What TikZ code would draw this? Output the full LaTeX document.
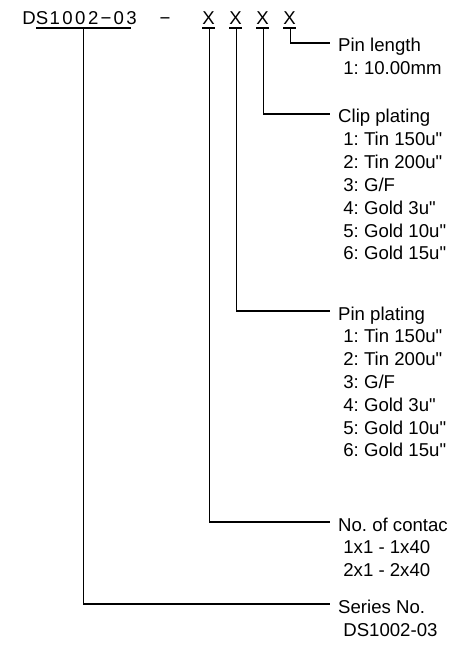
\documentclass[tikz,border=0pt]{standalone}
\usepackage{fontspec}
\setmainfont{Liberation Sans}[Ligatures=TeXOff]
\frenchspacing
\newcommand\mc[1]{\makebox[12.8pt]{#1}}
\begin{document}
\begin{tikzpicture}[x=1pt,y=-1pt,
  lbl/.style={anchor=base west,inner sep=0pt,font=\fontsize{18.6}{22.8}\selectfont},
  hdr/.style={anchor=base,inner sep=0pt,font=\fontsize{18.6}{22.8}\selectfont},
  conn/.style={line width=1.6pt},
  uline/.style={line width=1.3pt}]
\useasboundingbox (0,0) rectangle (450,652);
% header
\node[anchor=base west,inner sep=0pt,font=\fontsize{18.6}{22.8}\selectfont] (code) at (22.6,25)
  {\mc{D}\mc{S}\mc{1}\mc{0}\mc{0}\mc{2}\mc{\char"2212}\mc{0}\mc{3}};
\node[hdr] (dash) at (165,25) {\char"2212};
\node[hdr] (x1) at (208.5,25) {X};
\node[hdr] (x2) at (235.5,25) {X};
\node[hdr] (x3) at (262.5,25) {X};
\node[hdr] (x4) at (289.5,25) {X};
% underlines
\coordinate (us) at (83.5,28);
\draw[uline] (36,28) -- (131,28);
\foreach \c in {208.5,235.5,262.5,289.5}
  \draw[uline] (\c-6.5,28) -- (\c+6.5,28);
\coordinate (u1) at (209.5,28);
\coordinate (u2) at (236.5,28);
\coordinate (u3) at (263.5,28);
\coordinate (u4) at (290.5,28);
% labels
\node[lbl] (pl) at (338,52) {Pin length};
\node[lbl] (pl1) at (338,74.8) {\ 1: 10.00mm};
\node[lbl] (cp) at (338,123) {Clip plating};
\foreach \t [count=\i] in {1: Tin 150u",2: Tin 200u",3: G/F,4: Gold 3u",5: Gold 10u",6: Gold 15u"}
  \node[lbl] (cp\i) at (338,123+22.8*\i) {\ \t};
\node[lbl] (pp) at (338,320) {Pin plating};
\foreach \t [count=\i] in {1: Tin 150u",2: Tin 200u",3: G/F,4: Gold 3u",5: Gold 10u",6: Gold 15u"}
  \node[lbl] (pp\i) at (338,320+22.8*\i) {\ \t};
\node[lbl] (nc) at (338,531) {No. of contac};
\node[lbl] (nc1) at (338,553.8) {\ 1x1 - 1x40};
\node[lbl] (nc2) at (338,576.6) {\ 2x1 - 2x40};
\node[lbl] (sn) at (338,613) {Series No.};
\node[lbl] (sn1) at (338,636) {\ DS1002-03};
% connector ends
\coordinate (e4) at (330,43);
\coordinate (e3) at (330,114);
\coordinate (e2) at (330,311);
\coordinate (e1) at (330,522);
\coordinate (es) at (330,604);
\draw[conn] (u4) |- (e4);
\draw[conn] (u3) |- (e3);
\draw[conn] (u2) |- (e2);
\draw[conn] (u1) |- (e1);
\draw[conn] (us) |- (es);
\end{tikzpicture}
\end{document}
